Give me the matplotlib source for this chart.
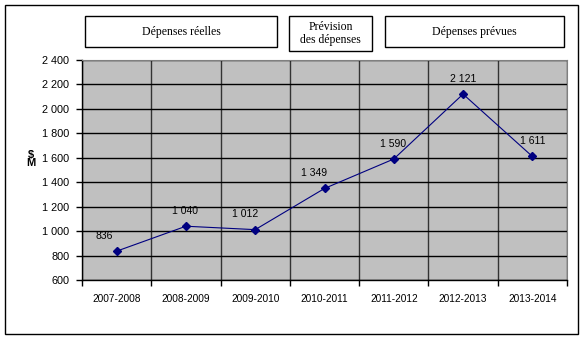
import numpy as np
import matplotlib.pyplot as plt
from matplotlib.patches import Rectangle

# Chart data
years = ['2007-2008', '2008-2009', '2009-2010', '2010-2011', '2011-2012', '2012-2013', '2013-2014']
spending = [836, 1040, 1012, 1349, 1590, 2121, 1611]
point_labels = ['836', '1 040', '1 012', '1 349', '1 590', '2 121', '1 611']
label_shift = [-12, -1, -10, -10, -1, 0, 0]  # horizontal nudge of each value label, px
y_ticks = [600, 800, 1000, 1200, 1400, 1600, 1800, 2000, 2200, 2400]
y_tick_labels = ['600', '800', '1 000', '1 200', '1 400', '1 600', '1 800', '2 000', '2 200', '2 400']
headers = ['Dépenses réelles', 'Prévision\ndes dépenses', 'Dépenses prévues']

W, H = 584, 342
fig = plt.figure(figsize=(W / 100, H / 100), dpi=100)
plt.rcParams['font.family'] = ['Liberation Sans', 'DejaVu Sans']

# Outer frame
fig.patches.append(Rectangle((5 / W, 1 - 334 / H), 573 / W, 329 / H, transform=fig.transFigure,
                             fill=False, edgecolor='black', linewidth=1.0))

# Plot area
ax = fig.add_axes([82 / W, 1 - 280 / H, 485 / W, 220 / H])
ax.set_facecolor('#c0c0c0')
x = np.arange(len(years))
ax.plot(x, spending, color='#000080', marker='D', markersize=4, linewidth=0.8)
for xi, yi, lab, dx in zip(x, spending, point_labels, label_shift):
    ax.annotate(lab, (xi, yi), xytext=(dx * 0.72, 11), textcoords='offset points',
                ha='center', va='center', fontsize=7.5, color='black')

ax.set_xlim(-0.5, len(years) - 0.5)
ax.set_ylim(600, 2400)
ax.set_yticks(y_ticks)
ax.set_yticklabels(y_tick_labels, fontsize=7.8)
ax.set_xticks(x)
ax.set_xticklabels(years, fontsize=7.3)
ax.tick_params(axis='x', length=0, pad=10)
ax.tick_params(axis='y', length=4, width=1, direction='out', pad=5)
ax.set_xticks(np.arange(-0.5, len(years)), minor=True)
ax.tick_params(axis='x', which='minor', length=4, width=1, direction='out')
ax.grid(True, axis='y', color='black', linewidth=1.0)
ax.grid(True, axis='x', which='minor', color='#333333', linewidth=1.0)
ax.set_axisbelow(True)
for side in ['top', 'right']:
    ax.spines[side].set_color('#808080')
for side in ['left', 'bottom']:
    ax.spines[side].set_color('black')
    ax.spines[side].set_linewidth(1.0)

fig.text(31 / W, 1 - 159 / H, '$\nM', fontsize=8, fontweight='bold', ha='center', va='center',
         linespacing=0.8)

# Header boxes
boxes = [(85, 16, 192, 31), (289, 16, 83, 35), (385, 16, 179, 31)]
for (bx, by, bw, bh), txt in zip(boxes, headers):
    fig.patches.append(Rectangle((bx / W, 1 - (by + bh) / H), bw / W, bh / H, transform=fig.transFigure,
                                 fill=False, edgecolor='black', linewidth=1.0))
    fig.text((bx + bw / 2) / W, 1 - (by + bh / 2) / H, txt, ha='center', va='center',
             fontsize=8.5, family='Liberation Serif', linespacing=1.15)

fig.savefig('out.png', dpi=100)
